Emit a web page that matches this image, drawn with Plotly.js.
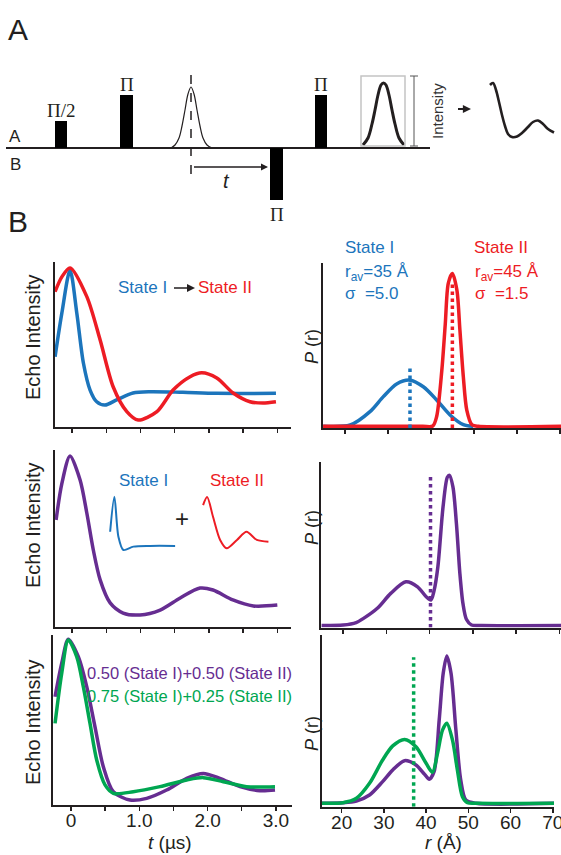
<!DOCTYPE html>
<html><head><meta charset="utf-8">
<script src="https://cdn.plot.ly/plotly-3.0.1.min.js"></script>
<style>html,body{margin:0;padding:0;background:#fff}#chart{width:561px;height:855px}</style>
</head><body><div id="chart"></div><script>
// ================= DATA =================
// Panel A: pulse sequence (schematic units: x = position, h = height above baseline)
const pulseLabels = ['Π/2', 'Π', 'Π', 'Π'];
const pulseStart  = [55, 120, 270, 315];
const pulseEnd    = [67, 133, 283, 327];
const pulseHeight = [27, 53, -52, 53];
const echoX = [171, 175, 179, 182, 185, 188, 191, 194, 197, 200, 203, 207, 212];
const echoH = [0, 3, 10, 22, 38, 54, 61, 54, 38, 22, 10, 3, 0];
const detX = [363, 368, 372, 375, 378, 381, 383.5, 386, 389, 392, 395, 399, 404];
const detH = [3, 10, 24, 38, 53, 63, 65, 63, 53, 38, 24, 10, 3];
const waveX = [490, 493, 496, 499, 502, 505, 508, 512, 517, 522, 528, 533, 538, 543, 548, 554];
const waveH = [63, 65, 58, 46, 33, 22, 14, 11, 11.5, 15, 21, 26, 27.5, 24, 19, 15.5];

// Panel B, row 1 left: echo curves (t in µs, normalized intensity)
const t1Blue    = [-0.249, -0.15, -0.03, 0.069, 0.165, 0.263, 0.36, 0.48, 0.65, 0.89, 1.14, 1.62, 2.115, 2.98];
const echo1Blue = [0.426, 0.69, 0.95, 0.69, 0.388, 0.224, 0.153, 0.133, 0.164, 0.206, 0.214, 0.21, 0.204, 0.204];
const t1Red     = [-0.249, -0.15, -0.03, 0.215, 0.41, 0.60, 0.80, 0.965, 1.24, 1.476, 1.725, 1.896, 2.115, 2.354, 2.60, 2.79, 2.98];
const echo1Red  = [0.82, 0.91, 0.964, 0.79, 0.527, 0.244, 0.093, 0.042, 0.093, 0.224, 0.305, 0.329, 0.297, 0.206, 0.153, 0.145, 0.153];

// Row 1 right: distance distributions (r in Å)
const r1Blue = [14.95, 21.2, 25.8, 28.9, 32.0, 35.1, 38.2, 41.3, 44.4, 47.5, 49.8];
const p1Blue = [0.01, 0.018, 0.099, 0.19, 0.267, 0.29, 0.25, 0.17, 0.079, 0.02, 0.01];
const r1Red  = [14.9, 38, 40.4, 41.3, 42.5, 43.3, 44.0, 44.95, 46.0, 46.7, 47.5, 48.3, 49.5, 51, 70.2];
const p1Red  = [0.01, 0.01, 0.012, 0.07, 0.35, 0.63, 0.877, 0.937, 0.836, 0.594, 0.31, 0.109, 0.02, 0.01, 0.01];
const rAvg1  = [35.1, 44.95];
const avgTop1 = [0.37, 0.877];

// Row 2 left: mixed echo + small insets
const t2    = [-0.234, -0.15, -0.03, 0.117, 0.215, 0.31, 0.41, 0.556, 0.746, 0.994, 1.287, 1.58, 1.87, 2.06, 2.35, 2.65, 3.0];
const echo2 = [0.605, 0.81, 0.966, 0.83, 0.644, 0.435, 0.266, 0.136, 0.079, 0.068, 0.096, 0.164, 0.22, 0.209, 0.153, 0.119, 0.124];
const insetBlueT = [0.556, 0.618, 0.677, 0.75, 0.896, 1.14, 1.506];
const insetBlueV = [0.538, 0.736, 0.51, 0.435, 0.454, 0.458, 0.458];
const insetRedT  = [1.915, 1.974, 2.06, 2.164, 2.26, 2.41, 2.55, 2.70, 2.87];
const insetRedV  = [0.689, 0.734, 0.623, 0.492, 0.445, 0.492, 0.538, 0.492, 0.482];

// Row 2 right
const r2 = [15, 20, 23, 24.7, 27.9, 31, 34.5, 37.2, 39.2, 40.3, 41.0, 41.9, 43.1, 44.1, 44.6, 45.4, 46.2, 47, 47.7, 48.5, 49.7, 52, 70.4];
const p2 = [0.012, 0.015, 0.03, 0.055, 0.116, 0.206, 0.276, 0.246, 0.186, 0.166, 0.22, 0.366, 0.728, 0.908, 0.919, 0.848, 0.628, 0.326, 0.146, 0.05, 0.015, 0.012, 0.012];
const rAvg2 = 40.2, avgTop2 = 0.919;

// Row 3 left
const t3Purple    = [-0.234, -0.136, -0.04, 0.107, 0.23, 0.351, 0.473, 0.62, 0.864, 1.108, 1.40, 1.694, 1.937, 2.18, 2.474, 2.767, 2.987];
const echo3Purple = [0.637, 0.834, 0.975, 0.872, 0.696, 0.46, 0.225, 0.078, 0.029, 0.039, 0.088, 0.157, 0.186, 0.157, 0.108, 0.084, 0.088];
const t3Green     = [-0.234, -0.136, -0.04, 0.083, 0.18, 0.278, 0.376, 0.498, 0.62, 0.912, 1.303, 1.694, 1.937, 2.23, 2.57, 2.987];
const echo3Green  = [0.48, 0.775, 0.97, 0.872, 0.696, 0.48, 0.265, 0.118, 0.069, 0.078, 0.108, 0.147, 0.161, 0.137, 0.108, 0.108];

// Row 3 right
const r3Purple = [15.35, 20.3, 23.5, 26.6, 29.7, 32.1, 34.9, 37.6, 39.6, 40.75, 41.9, 43.1, 44.05, 44.9, 45.9, 47.05, 48.2, 49.4, 51.8, 70.3];
const p3Purple = [0.02, 0.023, 0.033, 0.068, 0.146, 0.214, 0.268, 0.243, 0.19, 0.16, 0.205, 0.505, 0.777, 0.878, 0.777, 0.447, 0.155, 0.039, 0.02, 0.02];
const r3Green  = [15.35, 20.3, 23.5, 26.6, 29.7, 32.1, 34.9, 37.6, 40.0, 41.5, 42.7, 43.9, 44.9, 46.25, 47.4, 48.6, 49.8, 52, 70.3];
const p3Green  = [0.02, 0.023, 0.049, 0.136, 0.272, 0.354, 0.392, 0.349, 0.253, 0.2, 0.311, 0.447, 0.486, 0.388, 0.214, 0.058, 0.023, 0.02, 0.02];
const rAvg3 = 37.05, avgTop3 = 0.87;

// Tick values / labels
const tTicks = [0, 0.5, 1, 1.5, 2, 2.5, 3];
const tTickText = ['0', ' ', '1.0', ' ', '2.0', ' ', '3.0'];
const rTicks = [20, 30, 40, 50, 60, 70];
const rTickText = ['20', '30', '40', '50', '60', '70'];

// ================= STYLE / LAYOUT =================
const W = 561, H = 855;
const X = p => p / W, Y = p => 1 - p / H;
const dom = (a, b) => [a / W, b / W];
const vdom = (top, bot) => [1 - bot / H, 1 - top / H];
const BLUE = '#1c75bc', RED = '#ed1c24', PURPLE = '#662d91', GREEN = '#00a651', INK = '#231f20';
const SANS = 'Liberation Sans, Arial, sans-serif', SERIF = 'Liberation Serif, Times New Roman, serif';
const LW = 3.5;

function curve(x, y, color, xa, ya, w) {
  return {x: x, y: y, xaxis: xa, yaxis: ya, type: 'scatter', mode: 'lines',
    line: {color: color, width: w || LW, shape: 'spline', smoothing: 0.8}, hoverinfo: 'skip'};
}
function vline(xv, top, color, xa, ya) {
  return {x: [xv, xv], y: [0, top], xaxis: xa, yaxis: ya, type: 'scatter', mode: 'lines',
    line: {color: color, width: 3.5, dash: 'dot'}, hoverinfo: 'skip'};
}

const traces = [
  // Panel A
  {x: echoX, y: echoH, xaxis: 'x7', yaxis: 'y7', mode: 'lines', line: {color: INK, width: 1.2, shape: 'spline'}},
  {x: detX, y: detH, xaxis: 'x7', yaxis: 'y7', mode: 'lines', line: {color: INK, width: 3, shape: 'spline'}},
  {x: waveX, y: waveH, xaxis: 'x7', yaxis: 'y7', mode: 'lines', line: {color: INK, width: 2.6, shape: 'spline'}},
  // Row 1
  curve(t1Blue, echo1Blue, BLUE, 'x', 'y'),
  curve(t1Red, echo1Red, RED, 'x', 'y'),
  curve(r1Blue, p1Blue, BLUE, 'x2', 'y2'),
  curve(r1Red, p1Red, RED, 'x2', 'y2'),
  vline(rAvg1[0], avgTop1[0], BLUE, 'x2', 'y2'),
  vline(rAvg1[1], avgTop1[1], RED, 'x2', 'y2'),
  // Row 2
  curve(t2, echo2, PURPLE, 'x3', 'y3'),
  curve(insetBlueT, insetBlueV, BLUE, 'x3', 'y3', 2),
  curve(insetRedT, insetRedV, RED, 'x3', 'y3', 2),
  curve(r2, p2, PURPLE, 'x4', 'y4'),
  vline(rAvg2, avgTop2, PURPLE, 'x4', 'y4'),
  // Row 3
  curve(t3Purple, echo3Purple, PURPLE, 'x5', 'y5'),
  curve(t3Green, echo3Green, GREEN, 'x5', 'y5'),
  curve(r3Purple, p3Purple, PURPLE, 'x6', 'y6'),
  curve(r3Green, p3Green, GREEN, 'x6', 'y6'),
  vline(rAvg3, avgTop3, GREEN, 'x6', 'y6')
];
traces.forEach(t => { t.hoverinfo = 'skip'; t.showlegend = false; });

function xax(d, range, anchor, labels, vals, text) {
  return {domain: d, range: range, anchor: anchor, showgrid: false, zeroline: false,
    showline: true, linecolor: INK, linewidth: 2, ticks: 'outside', ticklen: 4, tickwidth: 1.5,
    tickcolor: INK, tickmode: 'array', tickvals: vals, ticktext: text, showticklabels: labels,
    ticklabelstandoff: -7, ticklabeloverflow: 'allow',
    tickfont: {family: SANS, size: 19, color: INK}, fixedrange: true};
}
function yax(d, anchor) {
  return {domain: d, range: [0, 1], anchor: anchor, showgrid: false, zeroline: false,
    showline: true, linecolor: INK, linewidth: 2, ticks: '', showticklabels: false, fixedrange: true};
}

const shapes = [];
// baseline of pulse sequence
shapes.push({type: 'line', xref: 'x7', yref: 'y7', x0: 6, x1: 430, y0: 0, y1: 0, line: {color: INK, width: 2}});
pulseStart.forEach((s, i) => {
  shapes.push({type: 'rect', xref: 'x7', yref: 'y7', x0: s, x1: pulseEnd[i], y0: 0, y1: pulseHeight[i],
    fillcolor: '#000', line: {width: 0}});
});
// dashed marker at echo centre
shapes.push({type: 'line', xref: 'x7', yref: 'y7', x0: 191, x1: 191, y0: -26, y1: 78, line: {color: INK, width: 1.5, dash: 'dash'}});
// detection box + intensity bar
shapes.push({type: 'rect', xref: 'x7', yref: 'y7', x0: 361, x1: 405, y0: 2, y1: 72, line: {color: '#c4c4c4', width: 1.5}});
shapes.push({type: 'line', xref: 'x7', yref: 'y7', x0: 414, x1: 414, y0: 2, y1: 72, line: {color: '#555', width: 1}});
shapes.push({type: 'line', xref: 'x7', yref: 'y7', x0: 410, x1: 418, y0: 2, y1: 2, line: {color: '#555', width: 1}});
shapes.push({type: 'line', xref: 'x7', yref: 'y7', x0: 410, x1: 418, y0: 72, y1: 72, line: {color: '#555', width: 1}});

const ann = [];
function txt(x, y, text, size, color, opts) {
  ann.push(Object.assign({xref: 'paper', yref: 'paper', x: X(x), y: Y(y), text: text, showarrow: false,
    font: {family: SANS, size: size, color: color || INK}, xanchor: 'center', yanchor: 'middle'}, opts || {}));
}
// panel letters
txt(18, 29, 'A', 30); txt(18, 222, 'B', 30);
txt(14.5, 137, 'A', 17); txt(15, 165, 'B', 17);
// pulse labels
pulseLabels.forEach((l, i) => {
  const up = pulseHeight[i] > 0;
  ann.push({xref: 'x7', yref: 'y7', x: (pulseStart[i] + pulseEnd[i]) / 2, y: pulseHeight[i], text: l, showarrow: false,
    font: {family: SERIF, size: 19, color: INK}, yanchor: up ? 'bottom' : 'top', yshift: -2});
});
// arrow t
ann.push({xref: 'x7', yref: 'y7', x: 268, y: -19, axref: 'x7', ayref: 'y7', ax: 191, ay: -19, text: ' ',
  showarrow: true, arrowhead: 2, arrowsize: 1, arrowwidth: 1.4, arrowcolor: INK});
txt(226, 181, '<i>t</i>', 20);
txt(438, 111, 'Intensity', 15, '#333', {textangle: -90});
ann.push({xref: 'x7', yref: 'y7', x: 471, y: 39, axref: 'x7', ayref: 'y7', ax: 455, ay: 39, text: ' ',
  showarrow: true, arrowhead: 2, arrowsize: 0.9, arrowwidth: 1.8, arrowcolor: INK});

// axis titles
[337, 525, 722].forEach(yc => txt(33, yc, 'Echo Intensity', 20, INK, {textangle: -90}));
[347, 528, 734].forEach(yc => txt(312, yc, '<i>P</i> (r)', 18, INK, {textangle: -90}));
txt(170, 842, '<i>t</i> (µs)', 19);
txt(443, 842, '<i>r</i> (Å)', 19);

// row 1 texts
txt(169, 288, 'State I', 17, BLUE, {xanchor: 'right'});
ann.push({xref: 'paper', yref: 'paper', x: X(195), y: Y(288), ax: -24, ay: 0, axref: 'pixel', ayref: 'pixel', text: ' ',
  showarrow: true, arrowhead: 2, arrowsize: 1, arrowwidth: 1.6, arrowcolor: INK});
txt(196, 288, 'State II', 17, RED, {xanchor: 'left'});
txt(343, 248, 'State I', 17, BLUE, {xanchor: 'left'});
txt(343, 273, 'r<sub>av</sub>=35 Å', 17, BLUE, {xanchor: 'left'});
txt(343, 294, 'σ\u00a0\u00a0=5.0', 17, BLUE, {xanchor: 'left'});
txt(472, 248, 'State II', 17, RED, {xanchor: 'left'});
txt(473, 273, 'r<sub>av</sub>=45 Å', 17, RED, {xanchor: 'left'});
txt(473, 294, 'σ\u00a0\u00a0=1.5', 17, RED, {xanchor: 'left'});
// row 2 texts
txt(143, 480, 'State I', 17, BLUE);
txt(237, 480, 'State II', 17, RED);
txt(182, 518, '+', 24, INK);
// row 3 texts
txt(85, 673, '0.50 (State I)+0.50 (State II)', 16.5, PURPLE, {xanchor: 'left'});
txt(85, 696, '0.75 (State I)+0.25 (State II)', 16.5, GREEN, {xanchor: 'left'});

const layout = {
  width: W, height: H, margin: {l: 0, r: 0, t: 0, b: 0},
  paper_bgcolor: '#fff', plot_bgcolor: 'rgba(0,0,0,0)', showlegend: false, hovermode: false,
  font: {family: SANS, color: INK},
  xaxis:  xax(dom(55, 291), [-0.25, 3.2], 'y', false, tTicks, tTickText),
  yaxis:  yax(vdom(262, 427), 'x'),
  xaxis2: xax(dom(323, 561), [14.88, 70.2], 'y2', false, rTicks, rTickText),
  yaxis2: yax(vdom(263, 428), 'x2'),
  xaxis3: xax(dom(55, 291), [-0.25, 3.2], 'y3', false, tTicks, tTickText),
  yaxis3: yax(vdom(450, 627), 'x3'),
  xaxis4: xax(dom(321, 561), [14.86, 70.4], 'y4', false, rTicks, rTickText),
  yaxis4: yax(vdom(462, 627.5), 'x4'),
  xaxis5: xax(dom(53, 292), [-0.264, 3.236], 'y5', true, tTicks, tTickText),
  yaxis5: yax(vdom(635, 805), 'x5'),
  xaxis6: xax(dom(322, 554), [15.35, 70.28], 'y6', true, rTicks, rTickText),
  yaxis6: yax(vdom(635, 806.7), 'x6'),
  xaxis7: {domain: [0, 1], range: [0, W], visible: false, fixedrange: true, anchor: 'y7'},
  yaxis7: {domain: [0, 1], range: [148 - H, 148], visible: false, fixedrange: true, anchor: 'x7'},
  shapes: shapes, annotations: ann
};
Plotly.newPlot('chart', traces, layout, {staticPlot: true, displayModeBar: false});
</script></body></html>
